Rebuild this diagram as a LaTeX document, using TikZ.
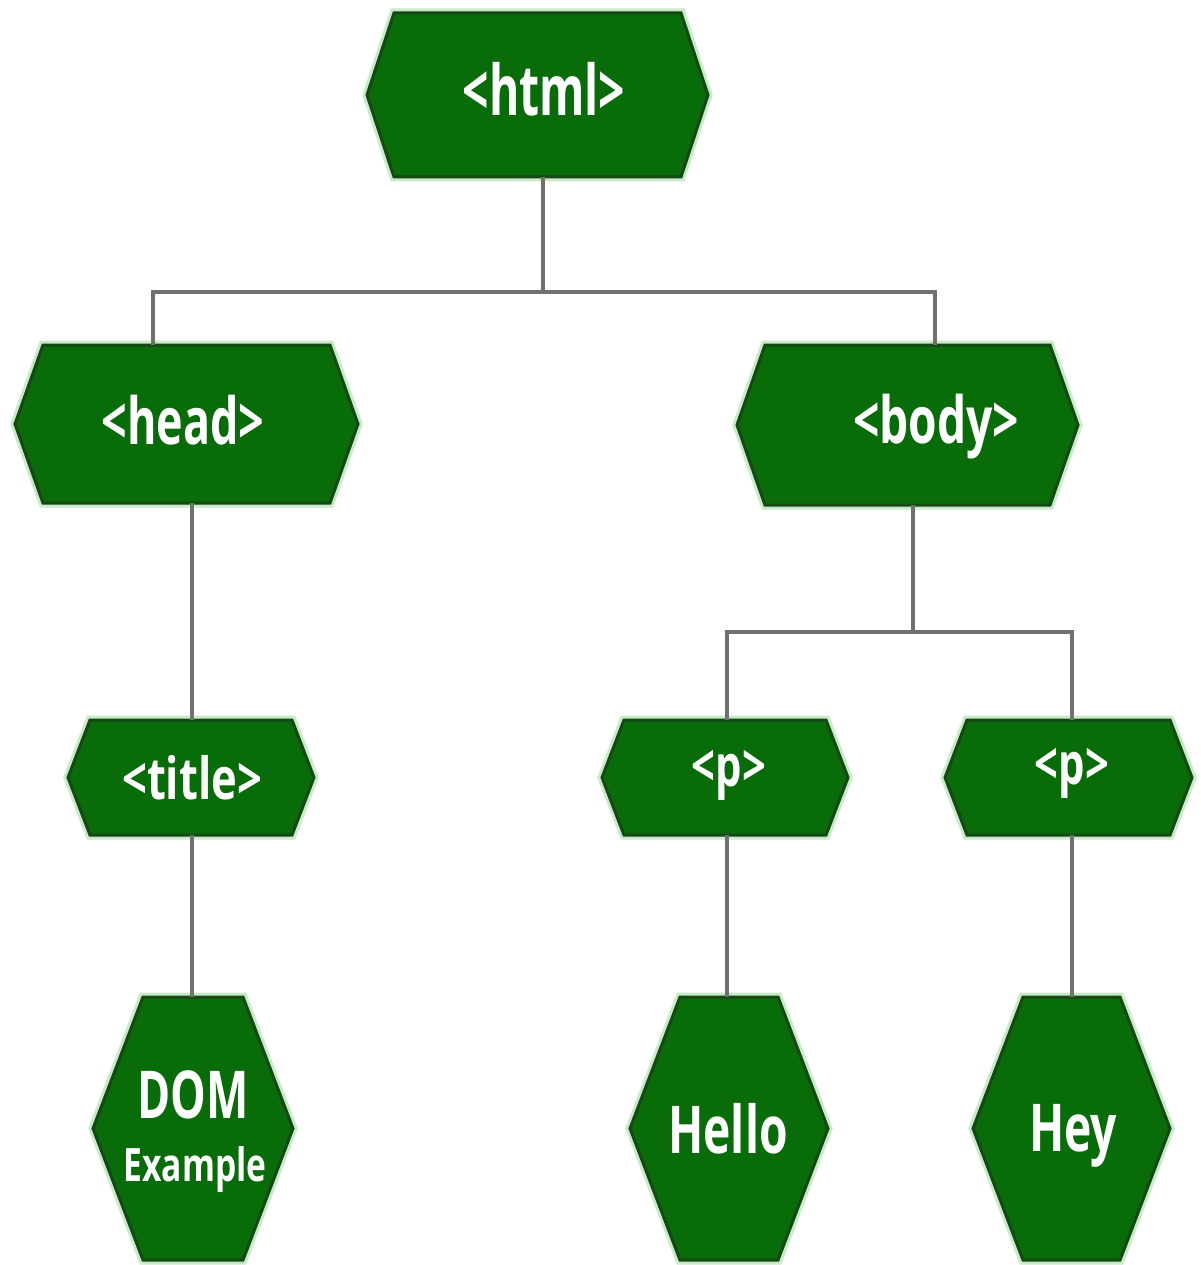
\documentclass[tikz,border=0pt]{standalone}
\usepackage{fontspec}
\setmainfont{Open Sans}
\definecolor{hexfill}{RGB}{8,108,8}
\definecolor{hexedge}{RGB}{22,72,22}
\definecolor{hexglow}{RGB}{200,235,200}
\definecolor{wire}{RGB}{112,112,112}
\tikzset{
  hexshape/.style={fill=hexfill, draw=hexedge, line width=3pt, line join=miter},
  hexhalo/.style={draw=hexglow, line width=9pt, line join=miter},
  lbl/.style={text=white, inner sep=0, anchor=base},
  conn/.style={draw=wire, line width=4pt},
  hexbox/.style={draw=none, inner sep=0},
}
\newcommand\fs[1]{\fontsize{#1}{#1}\selectfont\bfseries}
% name, cx, cy, w, h, inset
\newcommand\hexagonbox[6]{%
  \path[hexhalo] ({#2-#4/2},#3) -- ({#2-#4/2+#6},{#3-#5/2}) -- ({#2+#4/2-#6},{#3-#5/2}) -- ({#2+#4/2},#3) -- ({#2+#4/2-#6},{#3+#5/2}) -- ({#2-#4/2+#6},{#3+#5/2}) -- cycle;
  \filldraw[hexshape] ({#2-#4/2},#3) -- ({#2-#4/2+#6},{#3-#5/2}) -- ({#2+#4/2-#6},{#3-#5/2}) -- ({#2+#4/2},#3) -- ({#2+#4/2-#6},{#3+#5/2}) -- ({#2-#4/2+#6},{#3+#5/2}) -- cycle;
  \node[hexbox, minimum width=#4pt, minimum height=#5pt] (#1) at (#2,#3) {};
}
\begin{document}
\begin{tikzpicture}[x=1pt,y=-1pt]
\useasboundingbox[fill=white] (0,0) rectangle (1200,1265);

\hexagonbox{html}{537.5}{95}{341}{164}{27}
\hexagonbox{head}{186.5}{424}{343}{158}{28}
\hexagonbox{body}{907.5}{425}{341}{160}{28}
\hexagonbox{title}{191}{777.5}{246}{115}{22}
\hexagonbox{pa}{725}{777.5}{246}{115}{22}
\hexagonbox{pb}{1068.5}{777.5}{247}{115}{22}
\hexagonbox{dom}{193}{1128.5}{200}{263}{50}
\hexagonbox{hello}{729}{1128.5}{198}{263}{50}
\hexagonbox{hey}{1071.5}{1128.5}{197}{263}{50}

\node[lbl, font=\fs{70}] (thtml) at (544,116) {\scalebox{0.66}[1]{<html>}};
\node[lbl, font=\fs{65}] (thead) at (183,444) {\scalebox{0.69}[1]{<head>}};
\node[lbl, font=\fs{65}] (tbody) at (936,443) {\scalebox{0.71}[1]{<body>}};
\node[lbl, font=\fs{58}] (ttitle) at (192,799) {\scalebox{0.75}[1]{<title>}};
\node[lbl, font=\fs{58}] (tpa) at (729,786) {\scalebox{0.72}[1]{<p>}};
\node[lbl, font=\fs{58}] (tpb) at (1072,784) {\scalebox{0.72}[1]{<p>}};
\node[lbl, font=\fs{66}] (tdom) at (193,1118) {\scalebox{0.68}[1]{DOM}};
\node[lbl, font=\fs{46}] (texample) at (195,1181) {\scalebox{0.73}[1]{Example}};
\node[lbl, font=\fs{66}] (thello) at (728,1153) {\scalebox{0.7}[1]{Hello}};
\node[lbl, font=\fs{66}] (they) at (1073,1151) {\scalebox{0.7}[1]{Hey}};

\coordinate (j1) at (543,292);
\coordinate (j2) at (913,632);
\draw[conn] ([xshift=5.5pt]html.south) -- (j1);
\draw[conn] ([xshift=-33.5pt]head.north) |- (j1) -| ([xshift=27.5pt]body.north);
\draw[conn] ([xshift=5.5pt]head.south) -- ([xshift=1pt]title.north);
\draw[conn] ([xshift=5.5pt]body.south) -- (j2);
\draw[conn] ([xshift=2pt]pa.north) |- (j2) -| ([xshift=3.5pt]pb.north);
\draw[conn] ([xshift=1pt]title.south) -- ([xshift=-1pt]dom.north);
\draw[conn] ([xshift=2pt]pa.south) -- ([xshift=-2pt]hello.north);
\draw[conn] ([xshift=3.5pt]pb.south) -- ([xshift=0.5pt]hey.north);
\end{tikzpicture}
\end{document}
